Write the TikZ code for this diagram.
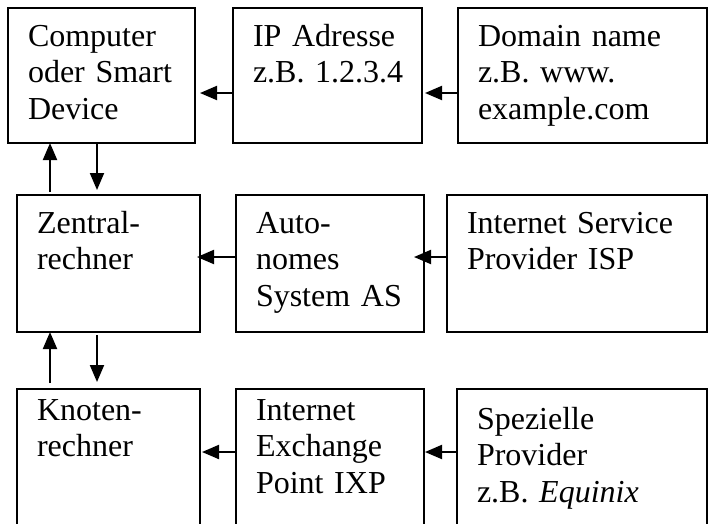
\documentclass[tikz,border=0pt]{standalone}
\usepackage{fontspec}
\setmainfont{Liberation Serif}
\usepackage{tikz}
\usetikzlibrary{calc}
\usetikzlibrary{arrows.meta, positioning}
\frenchspacing

\begin{document}
\begin{tikzpicture}[x=1pt, y=-1pt,
			cellStyle/.style={draw, line width=1.8pt, anchor=north west, align=left, outer sep=0pt, inner xsep=20pt, inner ysep=0pt, font=\fontsize{32}{36.5}\selectfont},
			rowA/.style={cellStyle, text height=38pt, text depth=97pt},
			rowB/.style={cellStyle, text height=38pt, text depth=99pt},
			rowC/.style={cellStyle, text height=31pt, text depth=106pt},
			flowStyle/.style={-{Triangle[length=17pt, width=14pt]}, line width=2pt},]
			
			\useasboundingbox (0,0) rectangle (708,523);
			
			% Zeile 1
			\node[rowA, text width=147pt] (comp) at (8,8) {Computer\\oder Smart\\Device};
			\node[rowA, text width=149pt, right=38pt of comp.north east, anchor=north west] (ip) {IP Adresse\\z.B.~1.2.3.4};
			\node[rowA, text width=209pt, right=36pt of ip.north east, anchor=north west] (dom) {Domain name\\z.B. www.\\example.com};
			
			% Zeile 2
			\node[rowB, text width=143pt] (zentral) at (17,195) {Zentral-\\rechner};
			\node[rowB, text width=148pt, right=36pt of zentral.north east, anchor=north west] (as) {Auto-\\nomes\\System AS};
			\node[rowB, text width=220pt, right=23pt of as.north east, anchor=north west] (isp) {Internet Service\\Provider ISP};
			
			% Zeile 3
			\node[rowC, text width=143pt] (knoten) at (17,389) {Knoten-\\rechner};
			\node[rowC, text width=148pt, right=36pt of knoten.north east, anchor=north west] (ixp) {Internet\\Exchange\\Point IXP};
			\node[rowC, text width=210pt, text height=40pt, text depth=97pt, right=33pt of ixp.north east, anchor=north west] (spez) {Spezielle\\Provider\\z.B. \textit{Equinix}};
			
			% waagrechte Pfeile
			\draw[flowStyle] ([yshift=-17.5pt]ip.west) -- ([yshift=-17.5pt, xshift=5pt]comp.east);
			\draw[flowStyle] ([yshift=-17.5pt]dom.west) -- ([yshift=-17.5pt, xshift=3pt]ip.east);
			\draw[flowStyle] ([yshift=6.5pt]as.west) -- ([yshift=6.5pt, xshift=-3pt]zentral.east);
			\draw[flowStyle] ([yshift=6.5pt]isp.west) -- ([yshift=6.5pt, xshift=-10pt]as.east);
			\draw[flowStyle] ([yshift=5.5pt]ixp.west) -- ([yshift=5.5pt, xshift=2pt]knoten.east);
			\draw[flowStyle] ([yshift=5.5pt]spez.west) -- ([yshift=5.5pt, xshift=1pt]ixp.east);
			
			% senkrechte Pfeile
			\draw[flowStyle] ($(zentral.north west)+(33,-3)$) -- ($(zentral.north west |- comp.south)+(33,0)$);
			\draw[flowStyle] ($(zentral.north west |- comp.south)+(80,0)$) -- ($(zentral.north west)+(80,-5)$);
			\draw[flowStyle] ($(knoten.north west)+(33,-6)$) -- ($(knoten.north west |- zentral.south)+(33,0)$);
			\draw[flowStyle] ($(knoten.north west |- zentral.south)+(80,3)$) -- ($(knoten.north west)+(80,-7)$);
		\end{tikzpicture}
\end{document}
